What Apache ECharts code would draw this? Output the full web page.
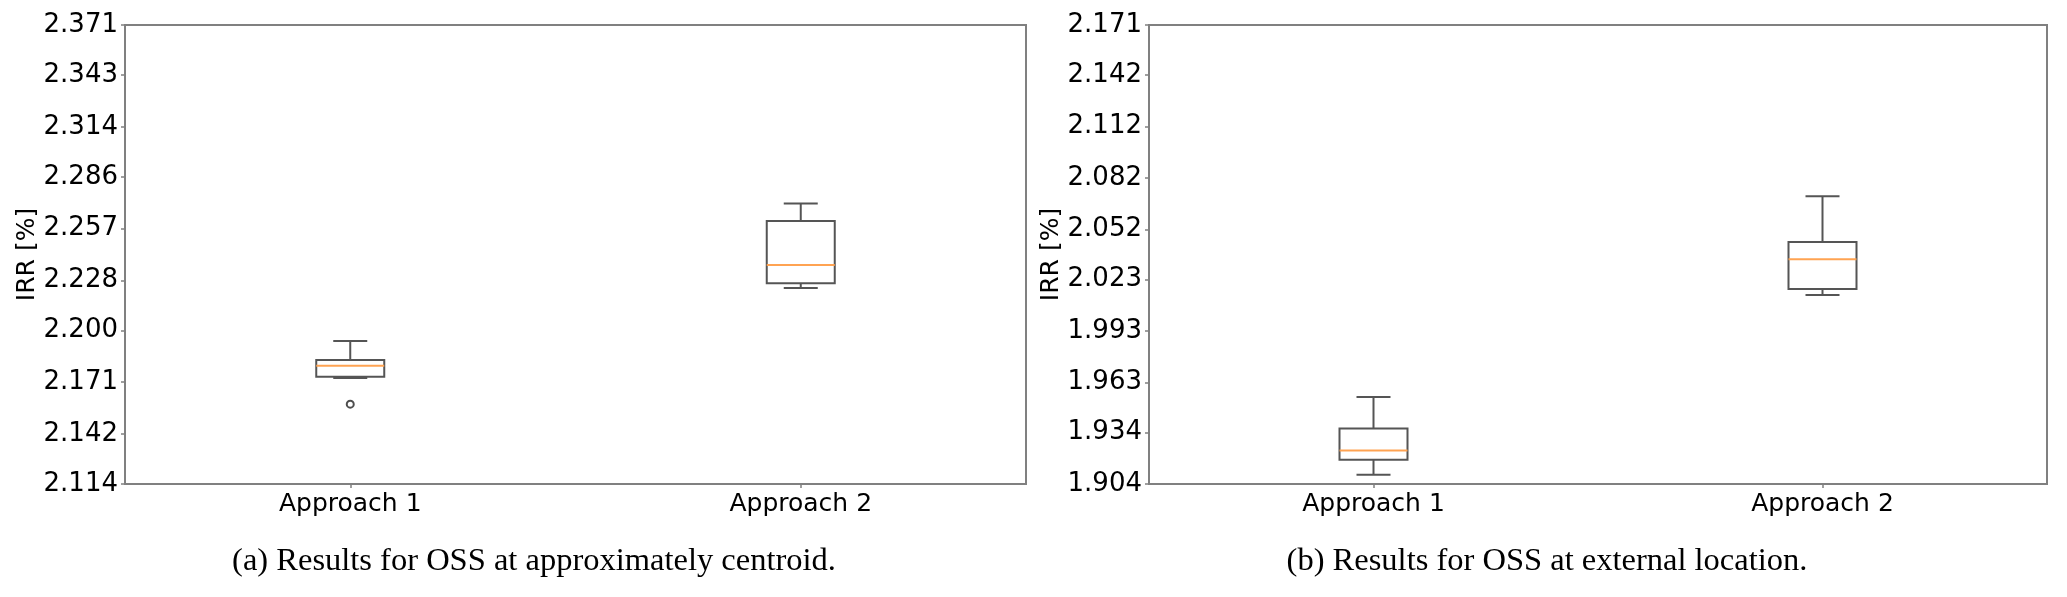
<!DOCTYPE html>
<html>
<head>
<meta charset="utf-8">
<script src="https://cdn.jsdelivr.net/npm/echarts@6/dist/echarts.min.js"></script>
<style>
html,body{margin:0;padding:0;background:#fff;}
#c{width:2067px;height:597px;}
</style>
</head>
<body>
<div id="c"></div>
<script>
// ---- data ----
const categories = ['Approach 1', 'Approach 2'];
// [lower whisker, Q1, median, Q3, upper whisker]
const centroidApproach1 = [2.1733, 2.1740, 2.1802, 2.1834, 2.1940];
const centroidApproach2 = [2.2238, 2.2264, 2.2366, 2.2613, 2.2710];
const centroidOutliers = [[0, 2.1587]];
const externalApproach1 = [1.9094, 1.9181, 1.9235, 1.9363, 1.9546];
const externalApproach2 = [2.0140, 2.0175, 2.0347, 2.0448, 2.0714];
const externalOutliers = [];
const centroidTicks = [2.114, 2.142, 2.171, 2.200, 2.228, 2.257, 2.286, 2.314, 2.343, 2.371];
const externalTicks = [1.904, 1.934, 1.963, 1.993, 2.023, 2.052, 2.082, 2.112, 2.142, 2.171];
const yLabel = 'IRR [%]';
const captionA = '(a) Results for OSS at approximately centroid.';
const captionB = '(b) Results for OSS at external location.';

// ---- chart ----
const chart = echarts.init(document.getElementById('c'), null, {renderer: 'canvas'});
const frameColor = '#808080';
const boxColor = '#555555';
const medianColor = '#ffa352';
const sans = 'DejaVu Sans';

function boxRows(a, b) {
  return [[0].concat(a), [1].concat(b)];
}

function renderBox(params, api) {
  const x = api.value(0);
  const lo = api.coord([x, api.value(1)]);
  const q1 = api.coord([x, api.value(2)]);
  const med = api.coord([x, api.value(3)]);
  const q3 = api.coord([x, api.value(4)]);
  const hi = api.coord([x, api.value(5)]);
  const cx = lo[0];
  const hw = 34, cw = 17;
  const ls = {stroke: boxColor, lineWidth: 2};
  return {
    type: 'group',
    children: [
      {type: 'line', shape: {x1: cx, y1: q3[1], x2: cx, y2: hi[1]}, style: ls},
      {type: 'line', shape: {x1: cx, y1: q1[1], x2: cx, y2: lo[1]}, style: ls},
      {type: 'line', shape: {x1: cx - cw, y1: hi[1], x2: cx + cw, y2: hi[1]}, style: ls},
      {type: 'line', shape: {x1: cx - cw, y1: lo[1], x2: cx + cw, y2: lo[1]}, style: ls},
      {type: 'rect', shape: {x: cx - hw, y: q3[1], width: 2 * hw, height: q1[1] - q3[1]},
        style: {fill: 'rgba(0,0,0,0)', stroke: boxColor, lineWidth: 2}},
      {type: 'line', shape: {x1: cx - hw, y1: med[1], x2: cx + hw, y2: med[1]},
        style: {stroke: medianColor, lineWidth: 2}}
    ]
  };
}

function yAxisDef(idx, ticks) {
  return {
    gridIndex: idx,
    type: 'value',
    min: ticks[0],
    max: ticks[ticks.length - 1],
    name: yLabel,
    nameLocation: 'middle',
    nameGap: 81,
    nameTextStyle: {fontFamily: sans, fontSize: 25, color: '#000'},
    axisLine: {show: false},
    splitLine: {show: false},
    axisTick: {show: true, length: 4, customValues: ticks, lineStyle: {color: frameColor, width: 1.5}},
    axisLabel: {
      customValues: ticks,
      fontFamily: sans, fontSize: 26, color: '#000', margin: 7,
      formatter: v => Number(v).toFixed(3)
    }
  };
}

function xAxisDef(idx) {
  return {
    gridIndex: idx,
    type: 'category',
    data: categories,
    boundaryGap: true,
    axisLine: {show: false},
    splitLine: {show: false},
    axisTick: {show: true, alignWithLabel: true, length: 4, lineStyle: {color: frameColor, width: 1.5}},
    axisLabel: {fontFamily: sans, fontSize: 25, color: '#000', margin: 8}
  };
}

const option = {
  animation: false,
  backgroundColor: '#ffffff',
  grid: [
    {left: 125, top: 25, width: 901, height: 459, show: true, borderColor: frameColor, borderWidth: 2, backgroundColor: 'transparent'},
    {left: 1149, top: 25, width: 898, height: 459, show: true, borderColor: frameColor, borderWidth: 2, backgroundColor: 'transparent'}
  ],
  xAxis: [xAxisDef(0), xAxisDef(1)],
  yAxis: [yAxisDef(0, centroidTicks), yAxisDef(1, externalTicks)],
  series: [
    {type: 'custom', xAxisIndex: 0, yAxisIndex: 0, renderItem: renderBox,
      encode: {x: 0, y: [1, 2, 3, 4, 5]}, data: boxRows(centroidApproach1, centroidApproach2), clip: false},
    {type: 'scatter', xAxisIndex: 0, yAxisIndex: 0, symbol: 'emptyCircle', symbolSize: 7,
      itemStyle: {color: '#222', borderColor: '#222', borderWidth: 1.3}, data: centroidOutliers},
    {type: 'custom', xAxisIndex: 1, yAxisIndex: 1, renderItem: renderBox,
      encode: {x: 0, y: [1, 2, 3, 4, 5]}, data: boxRows(externalApproach1, externalApproach2), clip: false},
    {type: 'scatter', xAxisIndex: 1, yAxisIndex: 1, symbol: 'emptyCircle', symbolSize: 7,
      itemStyle: {color: '#222', borderColor: '#222', borderWidth: 1.3}, data: externalOutliers}
  ],
  graphic: [
    {type: 'text', x: 534, y: 561, style: {text: captionA, font: '32.5px "Liberation Serif"', fill: '#000', align: 'center', verticalAlign: 'middle'}},
    {type: 'text', x: 1547, y: 561, style: {text: captionB, font: '32.5px "Liberation Serif"', fill: '#000', align: 'center', verticalAlign: 'middle'}}
  ]
};
chart.setOption(option);
</script>
</body>
</html>
